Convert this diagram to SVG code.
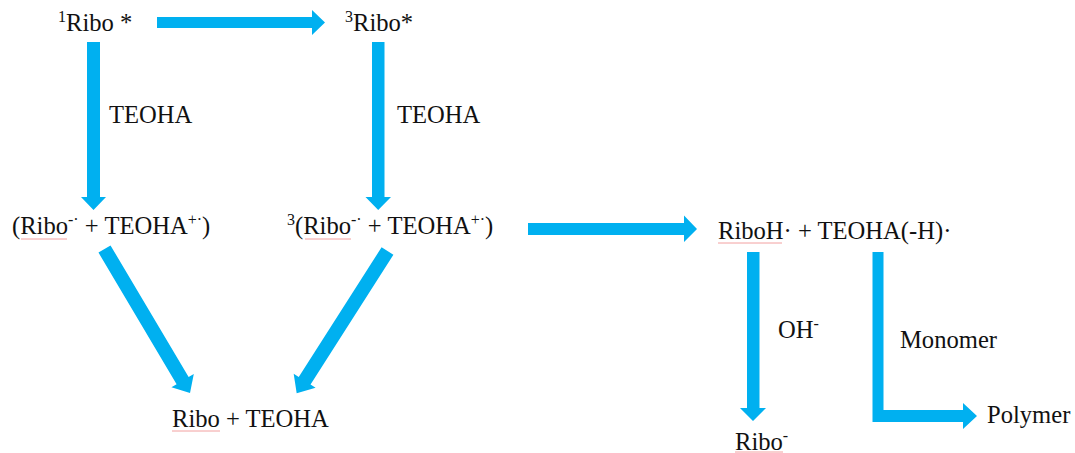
<svg xmlns="http://www.w3.org/2000/svg" width="1075" height="453" viewBox="0 0 1075 453">
<style>
text{font-family:"Liberation Serif","Times New Roman",serif;font-size:24.6px;fill:#111}
.sup{font-size:16px}
.arr{fill:#00B0F0}
.sq{stroke:#f2a0a0;stroke-width:1;fill:none}
</style>
<rect width="1075" height="453" fill="#fff"/>
<g id="connectors">
<polygon class="arr" points="157,17 312,17 312,10 325,22.5 312,35 312,28 157,28"/>
<polygon class="arr" points="87,42 100,42 100,197 106,197 93.5,210 81,197 87,197"/>
<polygon class="arr" points="372,42 384.5,42 384.5,197 391,197 378.2,210 365.5,197 372,197"/>
<polygon class="arr" points="528,223 684,223 684,215.5 697,229 684,242 684,235 528,235"/>
<polygon class="arr" transform="translate(104.5,249) rotate(59.3)" points="0,-7 153,-7 153,-13 167.5,0 153,13 153,7 0,7"/>
<polygon class="arr" transform="translate(387.5,251) rotate(122.55)" points="0,-7 154,-7 154,-13 168.8,0 154,13 154,7 0,7"/>
<polygon class="arr" points="747,252 759.5,252 759.5,408 766,408 753,421 740,408 747,408"/>
<polygon class="arr" points="872.5,252 883.5,252 883.5,410 963,410 963,403 977,416 963,429 963,422 872.5,422"/>
<text x="109" y="123">TEOHA</text>
<text x="397" y="123">TEOHA</text>
<text x="778" y="338">OH<tspan class="sup" dy="-9">-</tspan></text>
<text x="900" y="348">Monomer</text>
</g>
<g id="n1"><text x="58" y="31"><tspan class="sup" dy="-9">1</tspan><tspan dy="9">Ribo *</tspan></text></g>
<g id="n2"><text x="345" y="31"><tspan class="sup" dy="-9">3</tspan><tspan dy="9">Ribo*</tspan></text></g>
<g id="n3"><text x="12" y="234">(Ribo<tspan class="sup" dy="-9">-·</tspan><tspan dy="9"> + TEOHA</tspan><tspan class="sup" dy="-9">+·</tspan><tspan dy="9">)</tspan></text>
<path class="sq" d="M21,239 h46"/></g>
<g id="n4"><text x="287" y="234"><tspan class="sup" dy="-9">3</tspan><tspan dy="9">(Ribo</tspan><tspan class="sup" dy="-9">-·</tspan><tspan dy="9"> + TEOHA</tspan><tspan class="sup" dy="-9">+·</tspan><tspan dy="9">)</tspan></text>
<path class="sq" d="M305,239 h46"/></g>
<g id="n5"><text x="718" y="239">RiboH· + TEOHA(-H)·</text>
<path class="sq" d="M718,243 h64"/></g>
<g id="n6"><text x="172" y="427">Ribo + TEOHA</text>
<path class="sq" d="M172,431 h48"/></g>
<g id="n7"><text x="735" y="450">Ribo<tspan class="sup" dy="-9">-</tspan></text>
<path class="sq" d="M735,452 h48"/></g>
<g id="n8"><text x="987" y="423">Polymer</text></g>
</svg>
